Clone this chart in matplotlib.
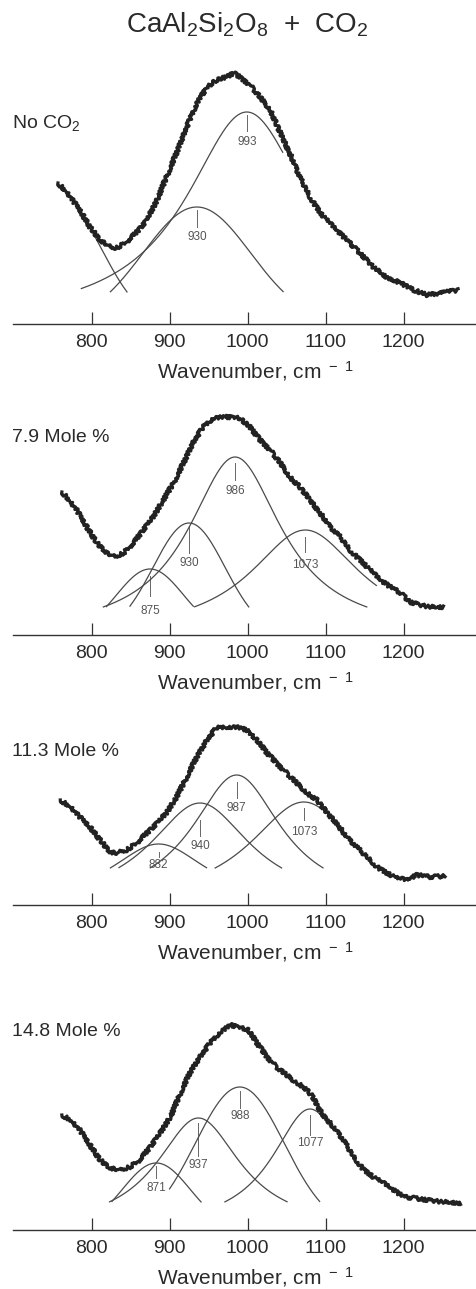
import numpy as np
import matplotlib
matplotlib.use("Agg")
import matplotlib.pyplot as plt

plt.rcParams['font.family'] = ['Liberation Sans', 'DejaVu Sans']
plt.rcParams['mathtext.fontset'] = 'custom'
plt.rcParams['mathtext.rm'] = 'Liberation Sans'
plt.rcParams['mathtext.default'] = 'regular'

# measured spectra: wavenumber (cm-1) and absorbance (arb. units)
wn_a = [757, 768, 785, 798, 811, 824, 832, 845, 858, 871, 884, 896, 909, 922, 935, 948, 960,
        973, 982, 990, 1003, 1016, 1029, 1042, 1054, 1067, 1080, 1093, 1110, 1127, 1144, 1161,
        1178, 1196, 1213, 1230, 1247, 1270]
ab_a = [141, 132, 114, 97, 84, 77, 76, 82, 92, 104, 124, 147, 171, 197, 221, 237, 244,
        247, 251, 247, 239, 227, 214, 191, 171, 147, 127, 111, 97, 84, 71, 57,
        47, 41, 34, 29, 31, 34]

wn_b = [762, 768, 781, 794, 807, 820, 830, 841, 854, 866, 879, 892, 905, 918, 930, 943, 956,
        969, 982, 990, 1003, 1016, 1029, 1042, 1054, 1067, 1080, 1093, 1106, 1119, 1131, 1144,
        1157, 1170, 1183, 1196, 1208, 1221, 1234, 1251]
ab_b = [143, 138, 125, 108, 92, 82, 78, 82, 92, 105, 118, 135, 152, 172, 192, 208, 217,
        218, 218, 217, 208, 195, 185, 172, 158, 148, 135, 122, 108, 98, 85, 75,
        65, 55, 48, 42, 33, 30, 28, 28]

wn_c = [760, 773, 785, 798, 811, 824, 832, 845, 858, 871, 884, 896, 909, 922, 935, 948, 960,
        973, 986, 999, 1012, 1025, 1037, 1050, 1063, 1076, 1089, 1102, 1114, 1127, 1140, 1153,
        1166, 1178, 1191, 1204, 1217, 1234, 1253]
ab_c = [105, 98, 88, 78, 65, 53, 52, 55, 62, 72, 82, 92, 108, 128, 148, 165, 177,
        178, 178, 175, 165, 152, 142, 132, 122, 112, 105, 92, 82, 68, 58, 48,
        38, 32, 27, 25, 30, 28, 29]

wn_d = [762, 773, 785, 798, 811, 824, 837, 849, 862, 875, 888, 901, 914, 926, 939, 952, 965,
        978, 990, 1001, 1012, 1025, 1037, 1050, 1063, 1072, 1083, 1090, 1097, 1110, 1123, 1136,
        1149, 1161, 1174, 1187, 1200, 1213, 1230, 1251, 1273]
ab_d = [115, 110, 100, 85, 70, 62, 60, 63, 70, 83, 97, 113, 137, 157, 173, 187, 198,
        205, 203, 200, 187, 173, 163, 155, 147, 143, 134, 123, 115, 103, 90, 73,
        60, 53, 47, 40, 33, 32, 30, 28, 27]

# fitted bands: centre, height, width, shape (0 gauss / 1 lorentz), drawn range
band_lbl_a = ['', '930', '993']
band_c_a = [764, 935, 999]
band_h_a = [121, 117, 212]
band_w_a = [50, 69, 95]
band_s_a = [0, 0, 1]
band_lo_a = [785, 700, 787]
band_hi_a = [900, 1300, 1045]

band_lbl_b = ['875', '930', '986', '1073']
band_c_b = [875, 925, 984, 1074]
band_h_b = [66, 112, 178, 105]
band_w_b = [43, 46, 73, 86]
band_s_b = [0, 0, 1, 1]
band_lo_b = [700, 700, 700, 700]
band_hi_b = [1300, 1300, 1300, 1165]

band_lbl_c = ['882', '940', '987', '1073']
band_c_c = [886, 939, 986, 1072]
band_h_c = [61, 102, 130, 103]
band_w_c = [77, 79, 70, 85]
band_s_c = [1, 1, 1, 1]
band_lo_c = [700, 700, 700, 700]
band_hi_c = [1300, 1300, 1300, 1095]

band_lbl_d = ['871', '937', '988', '1077']
band_c_d = [883, 937, 990, 1080]
band_h_d = [67, 112, 143, 121]
band_w_d = [43.5, 66, 57, 60]
band_s_d = [0, 1, 0, 1]
band_lo_d = [700, 700, 900, 700]
band_hi_d = [1300, 1300, 1300, 1092]

floors = [32, 28, 37, 28]
panel_names = ['No CO$_2$', '7.9 Mole %', '11.3 Mole %', '14.8 Mole %']
xticks = [800, 900, 1000, 1100, 1200]

# layout (pixels)
W, H = 477, 1289
base_px = [324, 635, 905, 1230]
name_px = [123, 437, 752, 1032]
# marker offsets below each peak: tick top, tick bottom, label centre
mark_a = [None, (3, 20, 30), (3, 19, 30)]
mark_b = [(7, 27, 42), (3, 30, 40), (6, 23, 34), (7, 22, 35)]
mark_c = [(8, 13, 21), (17, 33, 43), (7, 23, 33), (6, 18, 30)]
mark_d = [(3, 15, 25), (5, 38, 47), (4, 21, 29), (6, 26, 34)]


def band(x, c, h, w, s):
    if s == 1:
        return h / (1 + ((x - c) / w) ** 2)
    return h * np.exp(-0.5 * ((x - c) / w) ** 2)


panels = [
    (wn_a, ab_a, band_lbl_a, band_c_a, band_h_a, band_w_a, band_s_a, band_lo_a, band_hi_a, mark_a),
    (wn_b, ab_b, band_lbl_b, band_c_b, band_h_b, band_w_b, band_s_b, band_lo_b, band_hi_b, mark_b),
    (wn_c, ab_c, band_lbl_c, band_c_c, band_h_c, band_w_c, band_s_c, band_lo_c, band_hi_c, mark_c),
    (wn_d, ab_d, band_lbl_d, band_c_d, band_h_d, band_w_d, band_s_d, band_lo_d, band_hi_d, mark_d),
]

fig = plt.figure(figsize=(W / 100, H / 100), dpi=100)
fig.patch.set_facecolor('white')

for i, (wn, ab, lbls, cs, hs, ws, ss, los, his, marks) in enumerate(panels):
    ax = fig.add_axes([13 / W, (H - base_px[i]) / H, 464 / W, 260 / H])
    ax.patch.set_alpha(0)
    ax.set_xlim(699.4, 1294)
    ax.set_ylim(0, 260)

    for lbl, c, h, w, s, lo, hi, mk in zip(lbls, cs, hs, ws, ss, los, his, marks):
        x = np.linspace(lo, hi, 600)
        y = band(x, c, h, w, s)
        keep = y >= floors[i]
        ax.plot(x[keep], y[keep], color='#4a4a4a', lw=0.9, zorder=2)
        if mk:
            ax.plot([c, c], [h - mk[0], h - mk[1]], color='#666666', lw=0.7, zorder=2)
            ax.text(c, h - mk[2], lbl, ha='center', va='center', fontsize=8.5,
                    color='#555555', zorder=3)

    line, = ax.plot(wn, ab, color='#222222', lw=2.3, zorder=4, solid_joinstyle='round')
    line.set_sketch_params(scale=1.8, length=2.5, randomness=3)

    for side in ['top', 'left', 'right']:
        ax.spines[side].set_visible(False)
    ax.spines['bottom'].set_color('#333333')
    ax.spines['bottom'].set_linewidth(1.0)
    ax.set_yticks([])
    ax.set_xticks(xticks)
    ax.tick_params(axis='x', direction='in', length=8.5, width=0.9, pad=7,
                   labelsize=14, color='#333333', labelcolor='#2a2a2a')

    ax.text((255 - 13) / 464, -47 / 260, r'Wavenumber, cm$^{\ -\ 1}$', transform=ax.transAxes,
            ha='center', va='center', fontsize=15, color='#2a2a2a')
    fig.text(12 / W, 1 - name_px[i] / H, panel_names[i], ha='left', va='center',
             fontsize=14, color='#2a2a2a')

fig.text(247 / W, 1 - 25 / H, r'CaAl$_2$Si$_2$O$_8$  +  CO$_2$', ha='center', va='center',
         fontsize=20, color='#2a2a2a')

fig.savefig('out.png', dpi=100)
